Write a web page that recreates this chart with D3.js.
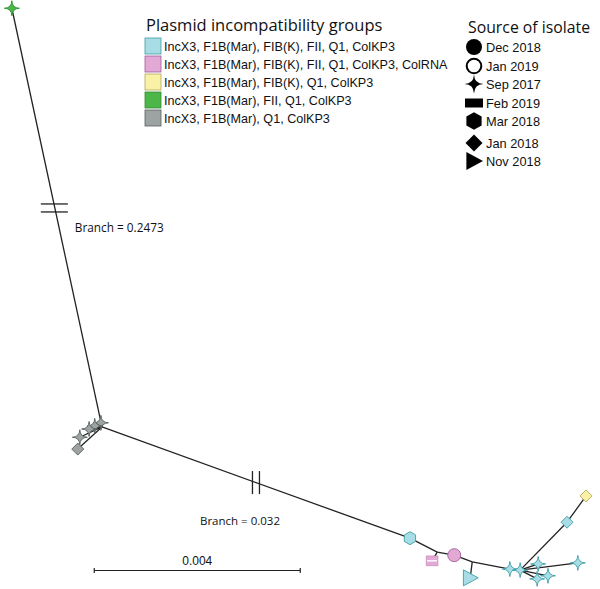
<!DOCTYPE html>
<html><head><meta charset="utf-8">
<script src="https://cdn.jsdelivr.net/npm/d3@7"></script>
<style>body{margin:0;background:#fff}svg{display:block}</style>
</head><body><div id="chart"></div>
<script>
// ---------- data ----------
const groupLabels = [
  "IncX3, F1B(Mar), FIB(K), FII, Q1, ColKP3",
  "IncX3, F1B(Mar), FIB(K), FII, Q1, ColKP3, ColRNA",
  "IncX3, F1B(Mar), FIB(K), Q1, ColKP3",
  "IncX3, F1B(Mar), FII, Q1, ColKP3",
  "IncX3, F1B(Mar), Q1, ColKP3"
];
const groupFill   = ["#a9dde5", "#e2a9d5", "#f8f1a6", "#4cb748", "#9da3a3"];
const groupStroke = ["#3c9ea8", "#a35c9c", "#b3a95c", "#2e8d33", "#56605f"];

const sourceLabels = ["Dec 2018", "Jan 2019", "Sep 2017", "Feb 2019", "Mar 2018", "Jan 2018", "Nov 2018"];
const sourceShapes = ["circle", "ring", "star", "rect", "hexagon", "diamond", "triangle"];

// tree nodes (tree units = 1e-4 substitutions/site, drawn layout)
const nodeIds = ["G","H","L1","L2","L3","L4","L5","A","B","P1","P2","C","T","D","E","BD","YD","S1","S2","S3","S4"];
const nodeX   = [2.3, 19.8, 19.6, 18.4, 17.3, 15.5, 15.1, 79.6, 84.9, 83.9, 88.2, 91.7, 91.3, 99.0, 101.0, 110.1, 113.8, 104.5, 112.2, 106.4, 104.3];
const nodeY   = [1.6, 82.9, 82.1, 82.7, 83.3, 84.9, 87.2, 104.5, 107.2, 108.9, 107.8, 109.1, 112.2, 110.5, 110.7, 101.4, 96.3, 109.5, 109.3, 111.8, 112.4];
// marker per node: group index and source index (null for internal nodes)
const nodeGroup  = [3, null, 4, 4, 4, 4, 4, 0, null, 1, 1, null, 0, 0, 0, 0, 2, 0, 0, 0, 0];
const nodeSource = [2, null, 2, 2, 2, 2, 5, 4, null, 3, 0, null, 6, 2, 2, 5, 5, 2, 2, 2, 2];

const edgeFrom = ["G","H","H","H","H","H","H","A","B","B","P2","C","C","D","E","BD","E","E","E","E"];
const edgeTo   = ["H","L1","L2","L3","L4","L5","A","B","P1","P2","C","T","D","E","BD","YD","S1","S2","S3","S4"];

const breakEdges  = [["G","H"], ["H","A"]];
const breakAt     = [0.477, 0.5];
const breakLabels = ["Branch = 0.2473", "Branch = 0.032"];

const scaleBarValue = 0.004;
const scaleBarLabel = "0.004";
const unitsPerSub = 1e4;

// ---------- setup ----------
const W = 600, H = 589;
const svg = d3.select("#chart").append("svg").attr("width", W).attr("height", H);
const x = d3.scaleLinear().domain([0, 100]).range([0, 515]);
const y = d3.scaleLinear().domain([0, 100]).range([0, 515]);

const nodes = nodeIds.map((id, i) => ({id, x: nodeX[i], y: nodeY[i], g: nodeGroup[i], s: nodeSource[i]}));
const byId = Object.fromEntries(nodes.map(n => [n.id, n]));
const edges = edgeFrom.map((f, i) => ({a: byId[f], b: byId[edgeTo[i]]}));

// symbol paths centred at 0,0 with radius r
function shapePath(shape, r) {
  const p = d3.path();
  if (shape === "circle" || shape === "ring") {
    p.arc(0, 0, r, 0, 2 * Math.PI);
  } else if (shape === "star") {
    // four-pointed star with concave sides
    const pts = [[0, -r], [r, 0], [0, r], [-r, 0]];
    const c = r * 0.06;
    p.moveTo(0, -r);
    for (let k = 0; k < 4; k++) {
      const [ax, ay] = pts[k], [bx, by] = pts[(k + 1) % 4];
      const mx = (ax + bx) / 2, my = (ay + by) / 2;
      const len = Math.hypot(mx, my);
      p.quadraticCurveTo(mx / len * c, my / len * c, bx, by);
    }
    p.closePath();
  } else if (shape === "rect") {
    p.rect(-r, -r * 0.5, r * 2, r);
  } else if (shape === "hexagon") {
    for (let k = 0; k < 6; k++) {
      const ang = -Math.PI / 2 + k * Math.PI / 3;
      const px = r * Math.cos(ang), py = r * Math.sin(ang);
      k === 0 ? p.moveTo(px, py) : p.lineTo(px, py);
    }
    p.closePath();
  } else if (shape === "diamond") {
    p.moveTo(0, -r); p.lineTo(r, 0); p.lineTo(0, r); p.lineTo(-r, 0); p.closePath();
  } else if (shape === "triangle") {
    p.moveTo(-r * 0.85, -r); p.lineTo(r, 0); p.lineTo(-r * 0.85, r); p.closePath();
  }
  return p.toString();
}

// ---------- tree edges ----------
svg.append("g").selectAll("line").data(edges).join("line")
  .attr("x1", d => x(d.a.x)).attr("y1", d => y(d.a.y))
  .attr("x2", d => x(d.b.x)).attr("y2", d => y(d.b.y))
  .attr("stroke", "#222").attr("stroke-width", 1.3);

// ---------- break marks ----------
breakEdges.forEach((e, i) => {
  const a = byId[e[0]], b = byId[e[1]], t = breakAt[i];
  const cx = x(a.x + (b.x - a.x) * t), cy = y(a.y + (b.y - a.y) * t);
  const g = svg.append("g").attr("stroke", "#222").attr("stroke-width", 1.3);
  if (i === 0) {
    [-4, 4].forEach(o => g.append("line").attr("x1", cx - 14).attr("x2", cx + 13).attr("y1", cy + o).attr("y2", cy + o));
    svg.append("text").attr("x", cx + 20).attr("y", cy + 24)
      .attr("font-family", "Open Sans, sans-serif").attr("font-size", 11.8).attr("fill", "#111")
      .text(breakLabels[i]);
  } else {
    [-3.5, 3.5].forEach(o => g.append("line").attr("x1", cx + o).attr("x2", cx + o).attr("y1", cy - 11.5).attr("y2", cy + 11.5));
    svg.append("text").attr("x", cx - 56).attr("y", cy + 42)
      .attr("font-family", "Open Sans, sans-serif").attr("font-size", 11.5).attr("fill", "#111")
      .text(breakLabels[i]);
  }
});

// ---------- markers ----------
const markerR = {circle: 6.5, ring: 6.5, star: 7.5, rect: 6, hexagon: 6.5, diamond: 6, triangle: 8};
const tips = nodes.filter(n => n.g !== null);
svg.append("g").selectAll("path").data(tips).join("path")
  .attr("transform", d => `translate(${x(d.x)},${y(d.y)})`)
  .attr("d", d => {
    const sh = sourceShapes[d.s];
    if (sh === "rect") {
      const p = d3.path();
      p.rect(-6, -5, 12, 10);
      return p.toString();
    }
    return shapePath(sh, markerR[sh]);
  })
  .attr("fill", d => groupFill[d.g])
  .attr("stroke", d => groupStroke[d.g])
  .attr("stroke-width", 0.9)
  .attr("stroke-opacity", d => sourceShapes[d.s] === "rect" ? 0.35 : 1);
// stripe on the stacked Feb 2019 marker
tips.filter(d => sourceShapes[d.s] === "rect").forEach(d => {
  svg.append("line").attr("x1", x(d.x) - 5).attr("x2", x(d.x) + 5)
    .attr("y1", y(d.y)).attr("y2", y(d.y))
    .attr("stroke", "#fff").attr("stroke-width", 1.4);
});

// ---------- scale bar ----------
const sbStart = 18.3, sbEnd = sbStart + scaleBarValue * unitsPerSub;
const sbY = 570.5;
const sb = svg.append("g").attr("stroke", "#222").attr("stroke-width", 1.2);
sb.append("line").attr("x1", x(sbStart)).attr("x2", x(sbEnd)).attr("y1", sbY).attr("y2", sbY);
[sbStart, sbEnd].forEach(v => sb.append("line").attr("x1", x(v)).attr("x2", x(v)).attr("y1", sbY - 2.5).attr("y2", sbY + 2.5));
svg.append("text").attr("x", (x(sbStart) + x(sbEnd)) / 2).attr("y", 565).attr("text-anchor", "middle")
  .attr("font-family", "Liberation Sans, Arial, sans-serif").attr("font-size", 12).attr("fill", "#111")
  .text(scaleBarLabel);

// ---------- legend: plasmid groups ----------
const lg = svg.append("g");
lg.append("text").attr("x", 146).attr("y", 31)
  .attr("font-family", "Open Sans, sans-serif").attr("font-size", 16.5).attr("fill", "#111")
  .text("Plasmid incompatibility groups");
groupLabels.forEach((lab, i) => {
  const cy = 46 + i * 18;
  lg.append("rect").attr("x", 145).attr("y", cy - 8).attr("width", 16).attr("height", 16)
    .attr("fill", groupFill[i]).attr("stroke", groupStroke[i]).attr("stroke-width", 0.8);
  lg.append("text").attr("x", 164).attr("y", cy + 4.5)
    .attr("font-family", "Liberation Sans, Arial, sans-serif").attr("font-size", 12.6).attr("fill", "#111")
    .text(lab);
});

// ---------- legend: source ----------
const sg = svg.append("g");
sg.append("text").attr("x", 468).attr("y", 33)
  .attr("font-family", "Open Sans, sans-serif").attr("font-size", 15.8).attr("fill", "#111")
  .text("Source of isolate");
const srcY = [47, 66, 84, 103, 121, 143, 161];
const legendR = {circle: 8, ring: 7.3, star: 9.5, rect: 9, hexagon: 8.8, diamond: 8.5, triangle: 9};
sourceLabels.forEach((lab, i) => {
  const sh = sourceShapes[i];
  sg.append("path").attr("transform", `translate(474,${srcY[i]})`)
    .attr("d", shapePath(sh, legendR[sh]))
    .attr("fill", sh === "ring" ? "none" : "#000")
    .attr("stroke", "#000").attr("stroke-width", sh === "ring" ? 2 : 0);
  sg.append("text").attr("x", 486).attr("y", srcY[i] + 5)
    .attr("font-family", "Liberation Sans, Arial, sans-serif").attr("font-size", 12.8).attr("fill", "#111")
    .text(lab);
});
</script></body></html>
